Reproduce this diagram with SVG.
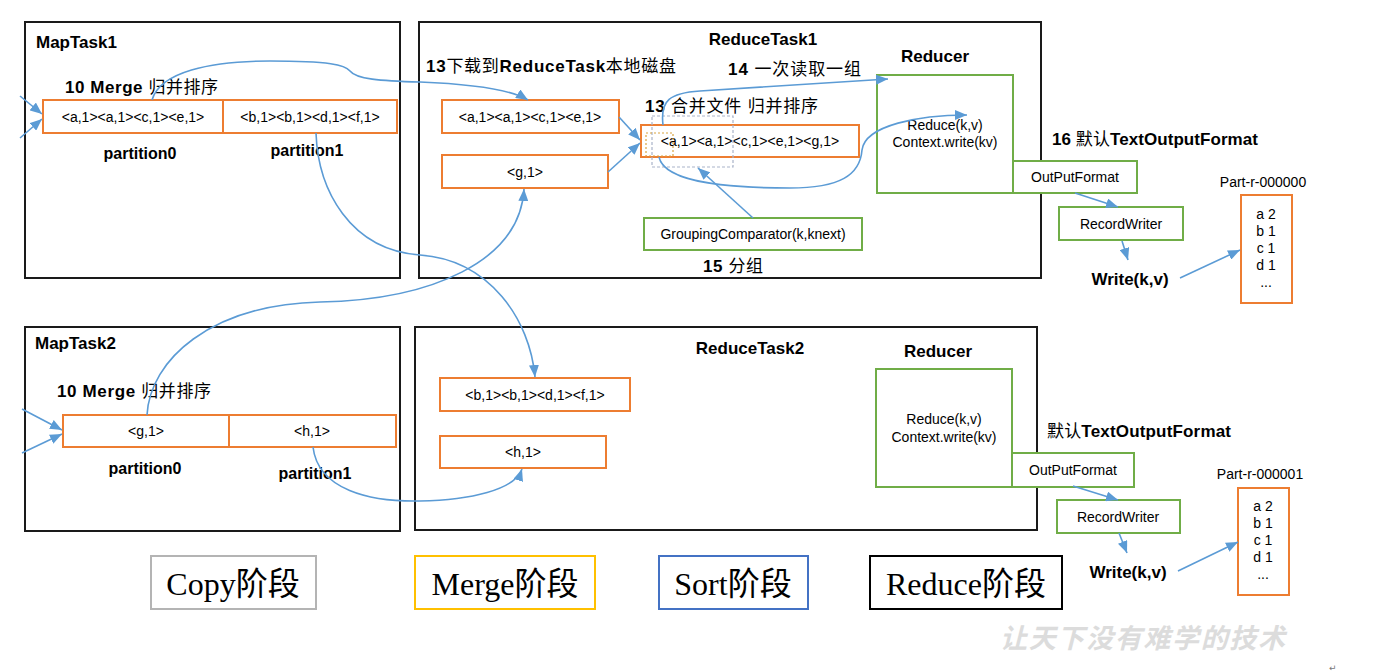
<svg xmlns="http://www.w3.org/2000/svg" width="1374" height="671" viewBox="0 0 1374 671">
<defs>
<marker id="arr" viewBox="0 0 12 10" refX="12" refY="5" markerWidth="12" markerHeight="10" markerUnits="userSpaceOnUse" orient="auto">
<path d="M0,0 L12,5 L0,10 z" fill="#5b9bd5"/>
</marker>
<style>
.task{fill:#fff;stroke:#1a1a1a;stroke-width:2}
.ob{fill:#fff;stroke:#ed7d31;stroke-width:2}
.gb{fill:#fff;stroke:#70ad47;stroke-width:2}
.t{font-family:"Liberation Sans","Noto Sans CJK SC",sans-serif;fill:#000}
.s14{font-size:14px}
.s16{font-size:16px}
.s17{font-size:17px}
.b{font-weight:bold}
.m{text-anchor:middle}
.stage{font-family:"Liberation Serif","Noto Sans CJK SC",serif;font-size:32px;fill:#000;text-anchor:middle}
.conn path{stroke:#5b9bd5;stroke-width:1.6;fill:none;marker-end:url(#arr)}
</style>
</defs>
<rect width="1374" height="671" fill="#fff"/>

<g id="maptask1">
<rect class="task" x="25" y="22" width="375" height="256"/>
<text class="t s17 b" x="36" y="48">MapTask1</text>
<text class="t s17" x="65" y="93" textLength="153"><tspan class="b">10 Merge </tspan>归并排序</text>
<rect class="ob" x="43" y="100" width="180" height="33"/>
<text class="t s14 m" x="133" y="122">&lt;a,1&gt;&lt;a,1&gt;&lt;c,1&gt;&lt;e,1&gt;</text>
<rect class="ob" x="223" y="100" width="174" height="33"/>
<text class="t s14 m" x="310" y="122">&lt;b,1&gt;&lt;b,1&gt;&lt;d,1&gt;&lt;f,1&gt;</text>
<text class="t s16 b m" x="140" y="159">partition0</text>
<text class="t s16 b m" x="307" y="156">partition1</text>
</g>

<g id="reducetask1">
<rect class="task" x="419" y="22" width="622" height="256"/>
<text class="t s17 b m" x="763" y="45">ReduceTask1</text>
<text class="t s17" x="426" y="72" textLength="250"><tspan class="b">13</tspan>下载到<tspan class="b">ReduceTask</tspan>本地磁盘</text>
<text class="t s17" x="728" y="75" textLength="133"><tspan class="b">14 </tspan>一次读取一组</text>
<text class="t s17" x="645" y="112" textLength="173"><tspan class="b">13 </tspan>合并文件 归并排序</text>
<text class="t s17" x="703" y="272" textLength="60"><tspan class="b">15 </tspan>分组</text>
<text class="t s17 b m" x="935" y="62">Reducer</text>
</g>

<g id="rt1-copy-a">
<rect class="ob" x="442" y="100" width="177" height="33"/>
<text class="t s14 m" x="530" y="122">&lt;a,1&gt;&lt;a,1&gt;&lt;c,1&gt;&lt;e,1&gt;</text>
</g>
<g id="rt1-copy-g">
<rect class="ob" x="442" y="155" width="166" height="33"/>
<text class="t s14 m" x="525" y="177">&lt;g,1&gt;</text>
</g>
<g id="rt1-merged">
<rect class="ob" x="641" y="125" width="218" height="32"/>
<text class="t s14 m" x="750" y="146">&lt;a,1&gt;&lt;a,1&gt;&lt;c,1&gt;&lt;e,1&gt;&lt;g,1&gt;</text>
<rect x="652" y="116" width="81" height="51" fill="none" stroke="#a9b3c9" stroke-width="1.2" stroke-dasharray="3,2"/>
<rect x="646" y="133" width="27" height="23" fill="none" stroke="#d9a441" stroke-width="1.2" stroke-dasharray="2,2"/>
</g>
<g id="rt1-grouping">
<rect class="gb" x="644" y="218" width="218" height="32"/>
<text class="t s14 m" x="753" y="239">GroupingComparator(k,knext)</text>
</g>
<g id="rt1-reducer">
<rect class="gb" x="877" y="75" width="136" height="118"/>
<text class="t s14 m" x="945" y="130">Reduce(k,v)</text>
<text class="t s14 m" x="945" y="147">Context.write(kv)</text>
</g>
<g id="rt1-outputformat">
<rect class="gb" x="1013" y="161" width="124" height="32"/>
<text class="t s14 m" x="1075" y="182">OutPutFormat</text>
</g>
<g id="rt1-output-label">
<text class="t s17" x="1052" y="145" textLength="206"><tspan class="b">16 </tspan>默认<tspan class="b">TextOutputFormat</tspan></text>
</g>
<g id="rt1-recordwriter">
<rect class="gb" x="1059" y="207" width="124" height="33"/>
<text class="t s14 m" x="1121" y="229">RecordWriter</text>
</g>
<g id="rt1-write">
<text class="t s17 b m" x="1130" y="285">Write(k,v)</text>
</g>
<g id="part0">
<text class="t s14 m" x="1263" y="187">Part-r-000000</text>
<rect class="ob" x="1241" y="195" width="51" height="108"/>
<text class="t s14 m" x="1266" y="219">a 2</text>
<text class="t s14 m" x="1266" y="236">b 1</text>
<text class="t s14 m" x="1266" y="253">c 1</text>
<text class="t s14 m" x="1266" y="270">d 1</text>
<text class="t s14 m" x="1266" y="287">...</text>
</g>

<g id="maptask2">
<rect class="task" x="25" y="327" width="375" height="204"/>
<text class="t s17 b" x="35" y="349">MapTask2</text>
<text class="t s17" x="57" y="397" textLength="154"><tspan class="b">10 Merge </tspan>归并排序</text>
<rect class="ob" x="63" y="415" width="166" height="32"/>
<text class="t s14 m" x="146" y="436">&lt;g,1&gt;</text>
<rect class="ob" x="229" y="415" width="167" height="32"/>
<text class="t s14 m" x="312" y="436">&lt;h,1&gt;</text>
<text class="t s16 b m" x="145" y="474">partition0</text>
<text class="t s16 b m" x="315" y="479">partition1</text>
</g>

<g id="reducetask2">
<rect class="task" x="415" y="327" width="622" height="203"/>
<text class="t s17 b m" x="750" y="354">ReduceTask2</text>
<text class="t s17 b m" x="938" y="357">Reducer</text>
</g>
<g id="rt2-copy-b">
<rect class="ob" x="440" y="378" width="190" height="33"/>
<text class="t s14 m" x="535" y="400">&lt;b,1&gt;&lt;b,1&gt;&lt;d,1&gt;&lt;f,1&gt;</text>
</g>
<g id="rt2-copy-h">
<rect class="ob" x="440" y="436" width="166" height="32"/>
<text class="t s14 m" x="523" y="457">&lt;h,1&gt;</text>
</g>
<g id="rt2-reducer">
<rect class="gb" x="876" y="369" width="136" height="118"/>
<text class="t s14 m" x="944" y="424">Reduce(k,v)</text>
<text class="t s14 m" x="944" y="442">Context.write(kv)</text>
</g>
<g id="rt2-outputformat">
<rect class="gb" x="1012" y="453" width="122" height="34"/>
<text class="t s14 m" x="1073" y="475">OutPutFormat</text>
</g>
<g id="rt2-output-label">
<text class="t s17" x="1047" y="437" textLength="184">默认<tspan class="b">TextOutputFormat</tspan></text>
</g>
<g id="rt2-recordwriter">
<rect class="gb" x="1057" y="500" width="123" height="33"/>
<text class="t s14 m" x="1118" y="522">RecordWriter</text>
</g>
<g id="rt2-write">
<text class="t s17 b m" x="1128" y="578">Write(k,v)</text>
</g>
<g id="part1">
<text class="t s14 m" x="1260" y="479">Part-r-000001</text>
<rect class="ob" x="1238" y="488" width="51" height="107"/>
<text class="t s14 m" x="1263" y="511">a 2</text>
<text class="t s14 m" x="1263" y="528">b 1</text>
<text class="t s14 m" x="1263" y="545">c 1</text>
<text class="t s14 m" x="1263" y="562">d 1</text>
<text class="t s14 m" x="1263" y="579">...</text>
</g>

<g id="stage-copy">
<rect x="151" y="556" width="165" height="53" fill="#fff" stroke="#b4b4b4" stroke-width="2"/>
<text class="stage" x="233" y="595">Copy阶段</text>
</g>
<g id="stage-merge">
<rect x="415" y="556" width="180" height="53" fill="#fff" stroke="#ffc000" stroke-width="2"/>
<text class="stage" x="505" y="595">Merge阶段</text>
</g>
<g id="stage-sort">
<rect x="659" y="556" width="149" height="53" fill="#fff" stroke="#4472c4" stroke-width="2"/>
<text class="stage" x="733" y="595">Sort阶段</text>
</g>
<g id="stage-reduce">
<rect x="870" y="556" width="192" height="53" fill="#fff" stroke="#000" stroke-width="2"/>
<text class="stage" x="966" y="595">Reduce阶段</text>
</g>

<g id="watermark">
<text x="1000" y="648" textLength="285" font-family="'Noto Sans CJK SC',sans-serif" font-size="27" font-style="italic" font-weight="bold" fill="#dcdcdc">让天下没有难学的技术</text>
<text x="1329" y="671" font-family="'DejaVu Sans',sans-serif" font-size="9" fill="#777">↵</text>
</g>

<g id="connectors" class="conn">
<path d="M20,96 L42,114"/>
<path d="M20,138 L42,119"/>
<path d="M22,409 L62,430"/>
<path d="M22,453 L62,434"/>
<path d="M152,100 C160,72 210,61 270,61 C330,61 345,65 350,71 C356,79 380,81 420,82 C470,84 510,89 528,100"/>
<path d="M316,133 C318,190 350,250 420,255 C490,260 530,320 535,377"/>
<path d="M147,415 C150,360 210,305 320,302 C430,300 520,262 524,189"/>
<path d="M313,447 C318,490 370,502 420,501 C470,500 515,490 522,469"/>
<path d="M619,117 L640,140"/>
<path d="M608,172 L640,143"/>
<path d="M753,218 L698,168"/>
<path d="M663,125 C660,100 670,93 700,91 C780,86 840,82 888,79"/>
<path d="M659,157 C665,185 740,188 790,188 C840,188 860,175 862,150 C865,125 920,115 967,115"/>
<path d="M1075,193 L1118,207"/>
<path d="M1122,241 L1128,260"/>
<path d="M1180,278 L1240,250"/>
<path d="M1073,486 L1118,500"/>
<path d="M1119,533 L1127,553"/>
<path d="M1178,571 L1238,542"/>
</g>
</svg>
